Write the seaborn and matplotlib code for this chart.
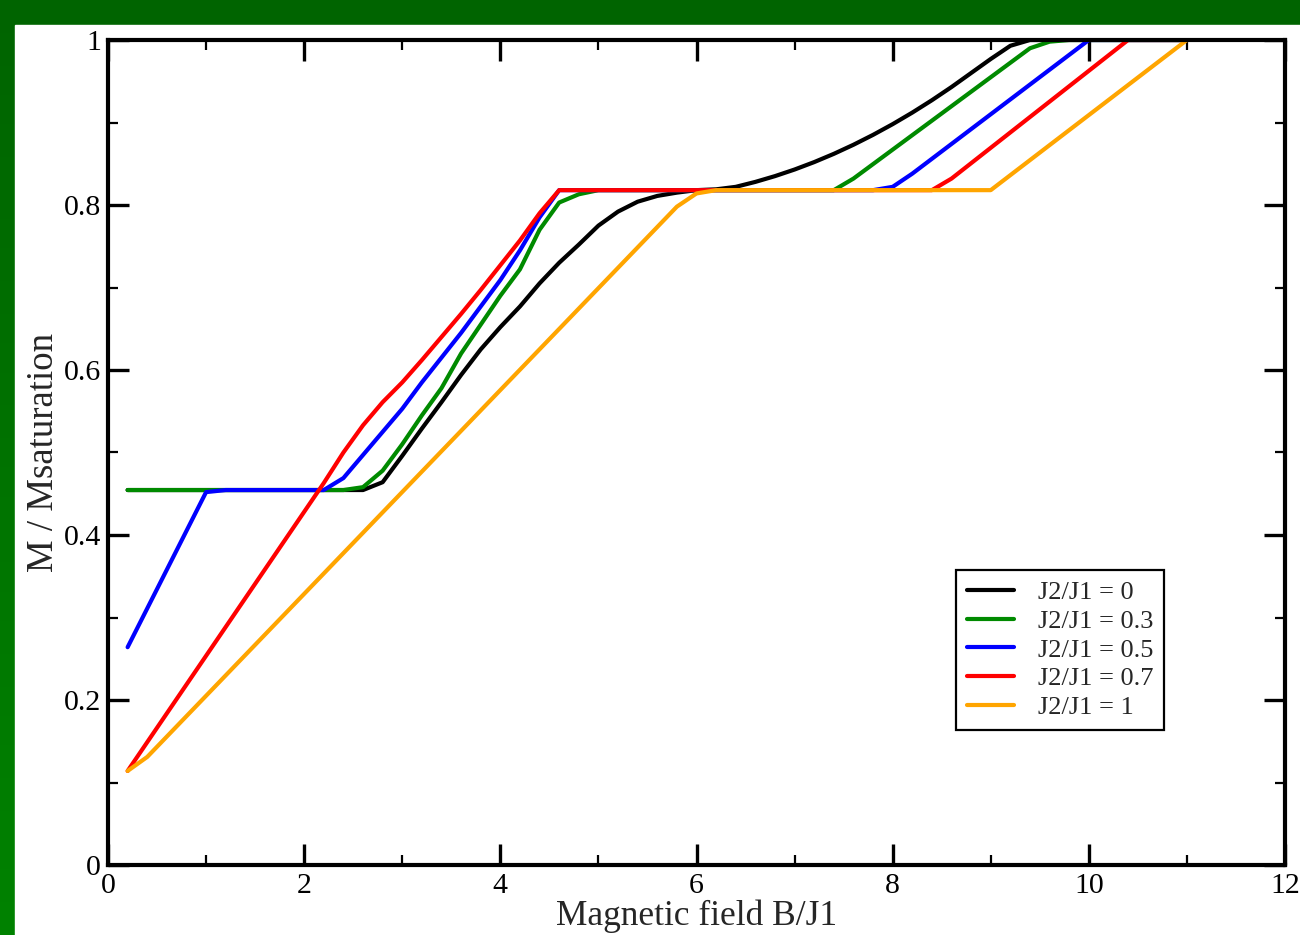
import matplotlib
matplotlib.use("Agg")
import matplotlib.pyplot as plt
from matplotlib.patches import Rectangle
from matplotlib.ticker import MultipleLocator, FuncFormatter
import seaborn as sns
import numpy as np
import pandas as pd

# curve breakpoints (B/J1, M/Msat)
b_j0 = [0.2, 2.6, 2.8, 3.0, 3.2, 3.4, 3.6, 3.8, 4.0, 4.2, 4.4, 4.6, 4.8, 5.0, 5.2, 5.4,
        5.6, 5.8, 6.0, 6.2, 6.4, 6.6, 6.8, 7.0, 7.2, 7.4, 7.6, 7.8, 8.0, 8.2, 8.4, 8.6,
        8.8, 9.0, 9.2, 9.4, 11.0]
m_j0 = [0.4545, 0.4545, 0.464, 0.496, 0.529, 0.561, 0.594, 0.625, 0.652, 0.677, 0.705,
        0.730, 0.752, 0.775, 0.792, 0.804, 0.811, 0.815, 0.818, 0.819, 0.822, 0.828, 0.835,
        0.843, 0.852, 0.862, 0.873, 0.885, 0.898, 0.912, 0.927, 0.943, 0.960, 0.977, 0.993,
        1.0, 1.0]

b_j03 = [0.2, 2.4, 2.6, 2.8, 3.0, 3.2, 3.4, 3.6, 3.8, 4.0, 4.2, 4.4, 4.6, 4.8, 5.0, 7.4,
         7.6, 9.4, 9.6, 9.8, 11.0]
m_j03 = [0.4545, 0.4545, 0.458, 0.478, 0.510, 0.545, 0.578, 0.620, 0.655, 0.690, 0.722,
         0.770, 0.803, 0.813, 0.818, 0.818, 0.832, 0.990, 0.998, 1.0, 1.0]

b_j05 = [0.2, 1.0, 1.2, 2.2, 2.4, 2.6, 2.8, 3.0, 3.2, 3.4, 3.6, 3.8, 4.0, 4.2, 4.4, 4.6,
         7.8, 8.0, 8.2, 10.0, 11.0]
m_j05 = [0.264, 0.452, 0.4545, 0.4545, 0.469, 0.497, 0.525, 0.553, 0.585, 0.615, 0.645,
         0.677, 0.709, 0.745, 0.785, 0.818, 0.818, 0.822, 0.838, 1.0, 1.0]

b_j07 = [0.2, 2.2, 2.4, 2.6, 2.8, 3.0, 3.2, 3.4, 3.6, 3.8, 4.0, 4.2, 4.4, 4.6, 8.4, 8.6,
         10.4, 11.0]
m_j07 = [0.114, 0.463, 0.500, 0.533, 0.561, 0.585, 0.612, 0.640, 0.668, 0.697, 0.727,
         0.757, 0.790, 0.818, 0.818, 0.832, 1.0, 1.0]

b_j1 = [0.2, 0.4, 5.8, 6.0, 6.2, 9.0, 11.0]
m_j1 = [0.114, 0.131, 0.798, 0.814, 0.818, 0.818, 1.0]

etiquetas = ["J2/J1 = 0", "J2/J1 = 0.3", "J2/J1 = 0.5", "J2/J1 = 0.7", "J2/J1 = 1"]
colores = ["#000000", "#008a00", "#0000ff", "#ff0000", "#ffa500"]

series = [(b_j0, m_j0), (b_j03, m_j03), (b_j05, m_j05), (b_j07, m_j07), (b_j1, m_j1)]
df = pd.concat(
    [pd.DataFrame({"B": b, "M": m, "serie": et, "orden": np.arange(len(b))})
     for (b, m), et in zip(series, etiquetas)],
    ignore_index=True,
)

sns.set_style("ticks")
plt.rcParams["font.family"] = ["Liberation Serif", "DejaVu Serif"]

fig = plt.figure(figsize=(13, 9.35), dpi=100)

# fondo de la diapositiva: verde con panel blanco
bg = fig.add_axes([0, 0, 1, 1], zorder=-10)
grad = np.linspace(0, 1, 256).reshape(-1, 1)
cmap = matplotlib.colors.LinearSegmentedColormap.from_list("verde", ["#006400", "#008200"])
bg.imshow(grad, aspect="auto", cmap=cmap, extent=[0, 1, 0, 1], origin="upper")
bg.add_patch(Rectangle((15 / 1300, 0), 1, 1 - 25 / 935, color="white", zorder=2))
bg.set_xlim(0, 1)
bg.set_ylim(0, 1)
bg.axis("off")

ax = fig.add_axes([108 / 1300, 1 - 865 / 935, 1177 / 1300, 825 / 935])
ax.set_facecolor("white")

sns.lineplot(data=df, x="B", y="M", hue="serie", hue_order=etiquetas,
             palette=colores, estimator=None, units="serie", sort=False,
             linewidth=3.0, ax=ax)

ax.set_xlim(0, 12)
ax.set_ylim(0, 1)
ax.xaxis.set_major_locator(MultipleLocator(2))
ax.xaxis.set_minor_locator(MultipleLocator(1))
ax.yaxis.set_major_locator(MultipleLocator(0.2))
ax.yaxis.set_minor_locator(MultipleLocator(0.1))
ax.xaxis.set_major_formatter(FuncFormatter(lambda v, p: f"{v:g}"))
ax.yaxis.set_major_formatter(FuncFormatter(lambda v, p: f"{v:g}"))

ax.tick_params(which="both", direction="in", top=True, right=True, colors="black")
ax.tick_params(which="major", length=15, width=2.4, labelsize=21.5)
ax.tick_params(which="minor", length=7.5, width=1.6)
ax.tick_params(axis="x", which="major", pad=6)
ax.tick_params(axis="y", which="major", pad=5)

for sp in ax.spines.values():
    sp.set_linewidth(3.0)
    sp.set_color("black")
    sp.set_zorder(5)

ax.set_xlabel("Magnetic field B/J1", fontsize=25.5, labelpad=0)
ax.set_ylabel("M / Msaturation", fontsize=26.5, labelpad=2)

leg = ax.legend(loc="upper left", bbox_to_anchor=(848 / 1177, 295 / 825),
                fontsize=19, frameon=True, fancybox=False, edgecolor="black",
                framealpha=1, handlelength=1.8, handletextpad=0.9,
                borderpad=0.4, labelspacing=0.2, borderaxespad=0)
leg.get_frame().set_linewidth(1.6)
for ln in leg.get_lines():
    ln.set_linewidth(3.0)

fig.savefig("out.png", dpi=100, facecolor=fig.get_facecolor())
